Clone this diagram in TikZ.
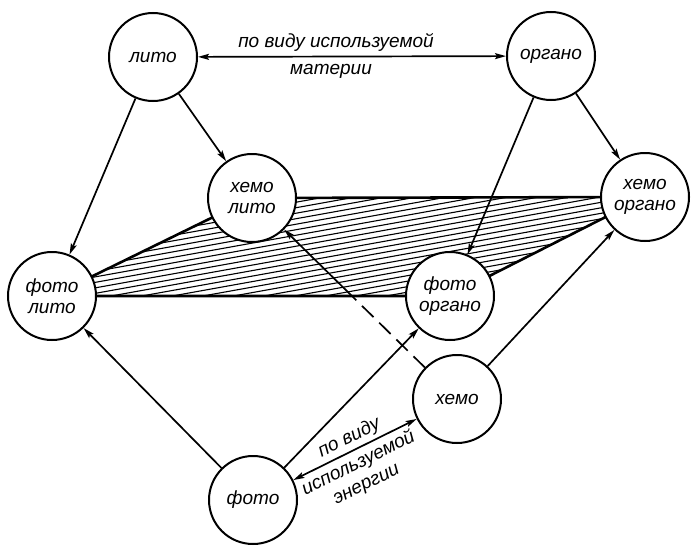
\documentclass[tikz,border=0pt]{standalone}
\usepackage{fontspec}
\setmainfont{Liberation Sans}
\usetikzlibrary{arrows.meta,calc}
\pgfdeclarelayer{bg}
\pgfsetlayers{bg,main}
\begin{document}
\begin{tikzpicture}[x=1pt,y=-1pt,
  state/.style={circle,draw,line width=2pt,fill=white,minimum size=88pt,inner sep=0pt,align=center,
    font=\fontsize{19}{21}\selectfont\itshape},
  conn/.style={line width=1.7pt,-{Stealth[length=11pt,width=6pt,inset=2pt]}},
  both/.style={line width=1.7pt,{Stealth[length=11pt,width=6pt,inset=2pt]}-{Stealth[length=11pt,width=6pt,inset=2pt]}},
  dashconn/.style={line width=1.7pt,dash pattern=on 16pt off 8pt},
  lbl/.style={font=\fontsize{19}{21}\selectfont\itshape,inner sep=0pt},
  planeedge/.style={line width=2.6pt,line join=round},
  hatchline/.style={line width=1.1pt}]
\useasboundingbox (0,0) rectangle (700,554);

\node[state] (li) at (153,57) {лито};
\node[state] (or) at (551,56) {органо};
\node[state] (hl) at (252,198) {хемо\\лито};
\node[state] (ho) at (645,197) {хемо\\органо};
\node[state] (fl) at (52,296) {фото\\лито};
\node[state] (fo) at (450,296) {фото\\органо};
\node[state] (he) at (457,399) {хемо};
\node[state] (ph) at (253,500) {фото};

\begin{pgfonlayer}{bg}
  \begin{scope}
    \clip (fl.center) -- (hl.center) -- (ho.center) -- (fo.center) -- cycle;
    \foreach \c in {195,200.5,...,425} \draw[hatchline] (0,\c) -- (700,\c-126);
  \end{scope}
  \draw[planeedge] (fl.center) -- (hl.center) -- (ho.center) -- (fo.center) -- cycle;
\end{pgfonlayer}

% top double arrow with label
\draw[both] (li) -- (or);
\coordinate (m1) at ($(li)!0.5!(or)$);
\node[lbl,anchor=base] (t1) at ($(m1)+(-16,-9)$) {по виду используемой};
\node[lbl,anchor=base] (t2) at ($(m1)+(-21,18)$) {материи};

% arrows
\draw[conn] (li) -- (fl);
\draw[conn] (li) -- (hl);
\draw[conn] (or) -- (fo);
\draw[conn] (or) -- (ho);
\draw[conn] (ph) -- (fl);
\draw[conn] (ph) -- (fo);
\draw[conn] (he) -- (ho);

\coordinate (x1) at (intersection of he--hl and fl--fo);
\draw[dashconn] (he) -- (x1);
\draw[conn] (x1) -- (hl);

% bottom double arrow with label
\draw[both] (ph) -- (he);
\coordinate (m2) at ($(ph)!0.5!(he)$);
\coordinate (m3) at ($(ph)!0.487!(he)$);
\coordinate (m4) at ($(ph)!0.478!(he)$);
\node[lbl,anchor=base,rotate=26.34] (b1) at ($(m2)!8pt!90:(he)$) {по виду};
\node[lbl,anchor=base,rotate=26.34] (b2) at ($(m3)!19pt!-90:(he)$) {используемой};
\node[lbl,anchor=base,rotate=26.34] (b3) at ($(m4)!41pt!-90:(he)$) {энергии};
\end{tikzpicture}
\end{document}
